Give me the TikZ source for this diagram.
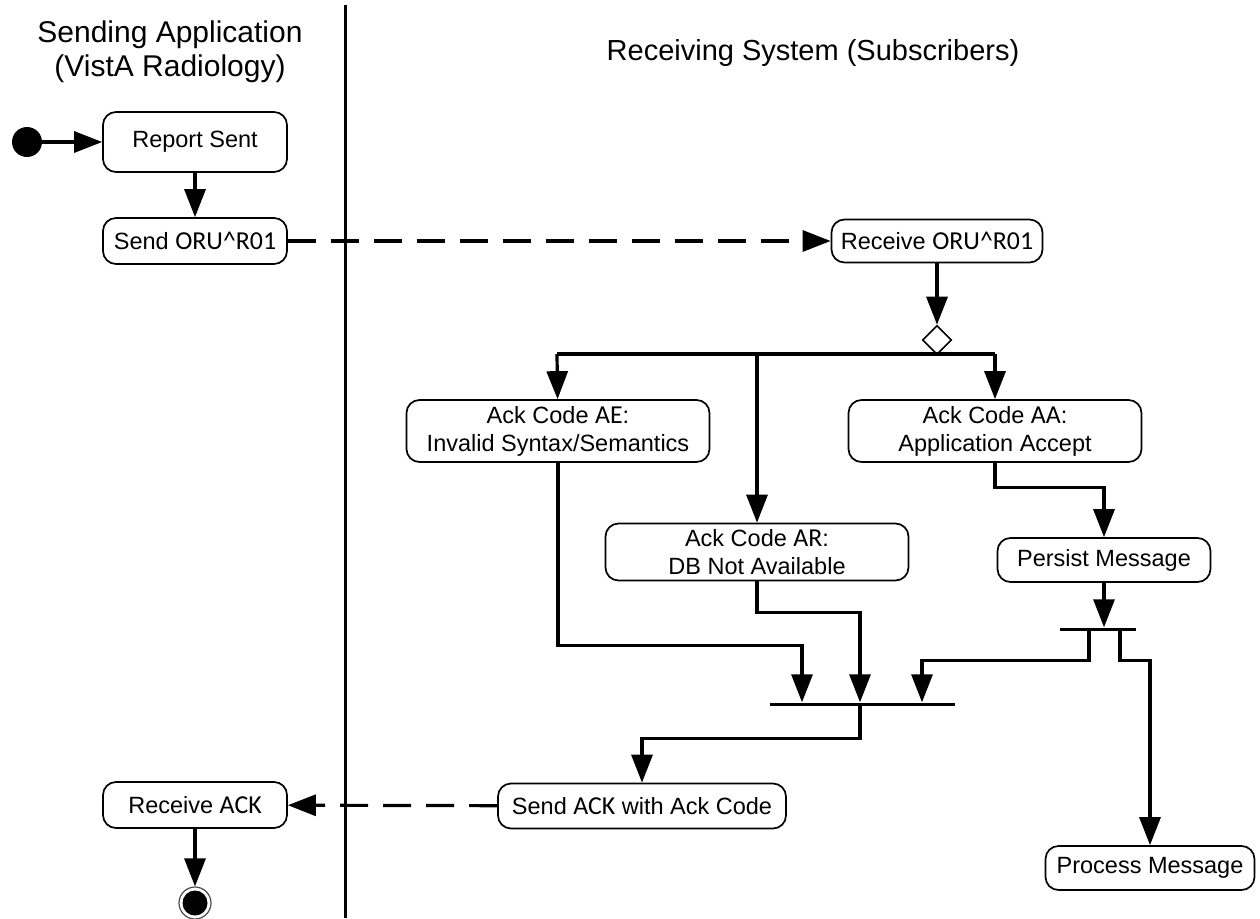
\documentclass[tikz,border=0pt]{standalone}
\usepackage{fontspec}
\setmainfont{Liberation Sans}
\newfontfamily\codefont[Scale=1.1]{Carlito}
\usetikzlibrary{arrows.meta, positioning, shapes.geometric}

\newcommand{\hlcode}[1]{{\codefont #1}}

\tikzset{
  action/.style={draw, line width=1.7pt, rounded corners=13pt, minimum height=46pt,
    align=center, font=\fontsize{23.5}{28}\selectfont, inner sep=3pt},
  flow/.style={line width=3.2pt, -{Triangle[length=28pt,width=21pt]}},
  msg/.style={flow, dash pattern=on 28pt off 15pt},
  bar/.style={fill=black, inner sep=0pt, minimum height=3pt},
  lanetitle/.style={anchor=base, inner sep=0pt, font=\fontsize{30}{34}\selectfont},
}

\begin{document}
\begin{tikzpicture}[x=1pt, y=-1pt]
   \useasboundingbox (0,0) rectangle (1260,918);
   % swimlanes
   \coordinate (lanetop) at (345,5);
   \coordinate (lanebot) at (345,918);
   \draw[line width=3pt] (lanetop) -- (lanebot);
   \node[lanetitle] (sendtitle) at (170,42) {Sending Application};
   \node[lanetitle] (sendsub) at (170,76) {(VistA Radiology)};
   \node[lanetitle, font=\fontsize{29}{34}\selectfont] (recvtitle) at (813,60) {Receiving System (Subscribers)};

   % sending side
   \fill (27,142) circle (15pt) coordinate (start);
   \node[action, minimum width=184pt, minimum height=60pt] (sent) at (195,142) {Report Sent};
   \node[action, minimum width=184pt] (send) at (195,241) {Send \hlcode{ORU\textasciicircum R01}};
   \node[action, minimum width=184pt] (rack) at (195,805) {Receive \hlcode{ACK}};
   \node[circle, draw=black!70, line width=1.2pt, minimum size=32pt, inner sep=0pt] (stop) at (195,903) {};
   \fill (stop.center) circle (12.5pt);

   % receiving side
   \node[action, minimum width=211pt, minimum height=43pt] (recv) at (937,241) {Receive \hlcode{ORU\textasciicircum R01}};
   \node[diamond, draw, line width=1.6pt, minimum size=29pt, inner sep=0pt] (dec) at (937,340) {};
   \node[action, minimum width=303pt, minimum height=62pt] (ae) at (558,431) {Ack Code \hlcode{AE}:\\Invalid Syntax/Semantics};
   \node[action, minimum width=293pt, minimum height=62pt] (aa) at (995,431) {Ack Code \hlcode{AA}:\\Application Accept};
   \node[action, minimum width=303pt, minimum height=57pt] (ar) at (757,552) {Ack Code \hlcode{AR}:\\DB Not Available};
   \node[action, minimum width=213pt, minimum height=44pt] (persist) at (1104,560) {Persist Message};
   \node[bar, minimum width=76pt] (fork) at (1098,629) {};
   \node[bar, minimum width=185pt] (join) at (862,704) {};
   \node[action, minimum width=288pt, minimum height=45pt] (ack) at (642,806) {Send \hlcode{ACK} with Ack Code};
   \node[action, minimum width=209pt, minimum height=44pt] (proc) at (1150,868) {Process Message};

   \coordinate (brleft) at (557,354);
   \coordinate (brmid) at (757,354);
   \coordinate (brright) at (995,354);
   \coordinate (forkl) at ([xshift=-9pt]fork.south);
   \coordinate (forkr) at ([xshift=22pt]fork.south);
   \coordinate (join1) at ([xshift=-60pt]join.north);
   \coordinate (join2) at ([xshift=-2pt]join.north);
   \coordinate (join3) at ([xshift=60pt]join.north);

   % connectors
   \draw[flow] (start) -- (sent);
   \draw[flow] (sent) -- (send);
   \draw[msg] (send) -- (recv);
   \draw[flow] (recv) -- (dec);
   \draw[line width=3.2pt] (brleft) -- (brright);
   \draw[flow] (brleft) -- (ae);
   \draw[flow] (brmid) -- (ar);
   \draw[flow] (brright) -- (aa);
   \draw[flow] (aa.south) -- ++(0,25) -| (persist);
   \draw[flow] (persist.south) -- (persist.south |- fork.north);
   \draw[flow] (forkl) -- ++(0,30) -| (join3);
   \draw[flow] (forkr) -- ++(0,30) -| (proc);
   \draw[flow] (ae.south) -- ++(0,183) -| (join1);
   \draw[flow] (ar.south) -- ++(0,31) -| (join2);
   \draw[flow] (join.south -| join2) -- ++(0,33) -| (ack);
   \draw[msg] (ack) -- (rack);
   \draw[flow] (rack) -- (stop);
\end{tikzpicture}
\end{document}
